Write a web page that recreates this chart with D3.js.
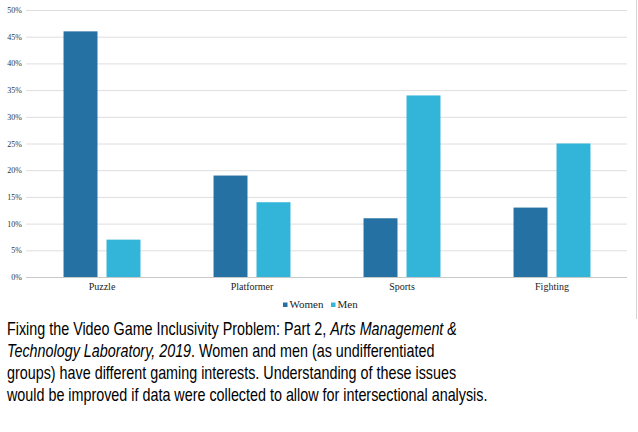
<!DOCTYPE html>
<html>
<head>
<meta charset="utf-8">
<script src="https://cdn.jsdelivr.net/npm/d3@7"></script>
<style>
  body { margin: 0; background: #fff; }
  svg { display: block; }
</style>
</head>
<body>
<svg id="chart" width="638" height="432"></svg>
<script>
// ── Data ─────────────────────────────────
const categories = ['Puzzle', 'Platformer', 'Sports', 'Fighting'];
const seriesNames = ['Women', 'Men'];
const women = [46, 19, 11, 13];
const men = [7, 14, 34, 25];
const yTicks = [0, 5, 10, 15, 20, 25, 30, 35, 40, 45, 50];
const captionLines = [
  [{ t: 'Fixing the Video Game Inclusivity Problem: Part 2, ' }, { t: 'Arts Management &', i: true }],
  [{ t: 'Technology Laboratory, 2019', i: true }, { t: '. Women and men (as undifferentiated' }],
  [{ t: 'groups) have different gaming interests. Understanding of these issues' }],
  [{ t: 'would be improved if data were collected to allow for intersectional analysis.' }]
];

const colors = { Women: '#2671a4', Men: '#32b5d8' };
const serif = '"Liberation Serif", "Times New Roman", serif';
const svg = d3.select('#chart');

// ── Scales ───────────────────────────────
const x = d3.scaleBand().domain(categories).range([27, 627]);
const xs = d3.scaleBand().domain(seriesNames).range([0, x.bandwidth()]).paddingInner(0.21).paddingOuter(0.85);
const y = d3.scaleLinear().domain([0, 50]).range([277, 10]);

// frame border on the right
svg.append('line').attr('x1', 636.5).attr('x2', 636.5).attr('y1', 0).attr('y2', 319)
  .attr('stroke', '#d4d4d4').attr('stroke-width', 1);

// gridlines + y axis labels
const yAxis = d3.axisLeft(y).tickValues(yTicks).tickSize(-(627 - 26)).tickFormat(d => d + '%');
const gy = svg.append('g').attr('transform', 'translate(26,0)').call(yAxis);
gy.select('.domain').remove();
gy.selectAll('.tick line').attr('stroke', d => d === 0 ? '#c8c8c8' : '#dedede').attr('stroke-width', 1);
gy.selectAll('.tick text').attr('x', -4).attr('fill', '#333')
  .style('font-family', serif).style('font-size', '8px');

// bars
const data = categories.map((c, i) => ({ c, vals: [{ s: 'Women', v: women[i] }, { s: 'Men', v: men[i] }] }));
const groups = svg.append('g').selectAll('g').data(data).join('g')
  .attr('transform', d => `translate(${x(d.c)},0)`);
groups.selectAll('rect').data(d => d.vals).join('rect')
  .attr('x', d => xs(d.s)).attr('width', xs.bandwidth())
  .attr('y', d => y(d.v)).attr('height', d => y(0) - y(d.v))
  .attr('fill', d => colors[d.s]);

// x axis labels
const xAxis = d3.axisBottom(x).tickSize(0).tickPadding(6);
const gx = svg.append('g').attr('transform', 'translate(0,277)').call(xAxis);
gx.select('.domain').remove();
gx.selectAll('.tick text').attr('fill', '#222')
  .style('font-family', serif).style('font-size', '10px');

// legend
const legendX = [283, 331];
const lg = svg.append('g').selectAll('g').data(seriesNames).join('g')
  .attr('transform', (d, i) => `translate(${legendX[i]},308)`);
lg.append('rect').attr('x', 0).attr('y', -5.5).attr('width', 4.5).attr('height', 4.5).attr('fill', d => colors[d]);
lg.append('text').attr('x', 6.5).attr('y', 0).text(d => d).attr('fill', '#222')
  .style('font-family', serif).style('font-size', '11px');

// caption (the source text is horizontally condensed)
const cap = svg.append('g').attr('transform', 'translate(7,0) scale(0.775,1)')
  .style('font-family', '"Liberation Sans", Arial, sans-serif')
  .style('font-size', '18.5px').attr('fill', '#000');
captionLines.forEach((line, i) => {
  const t = cap.append('text').attr('x', 0).attr('y', 335.5 + i * 21.7);
  line.forEach(seg => {
    t.append('tspan').text(seg.t).style('font-style', seg.i ? 'italic' : 'normal');
  });
});
</script>
</body>
</html>
